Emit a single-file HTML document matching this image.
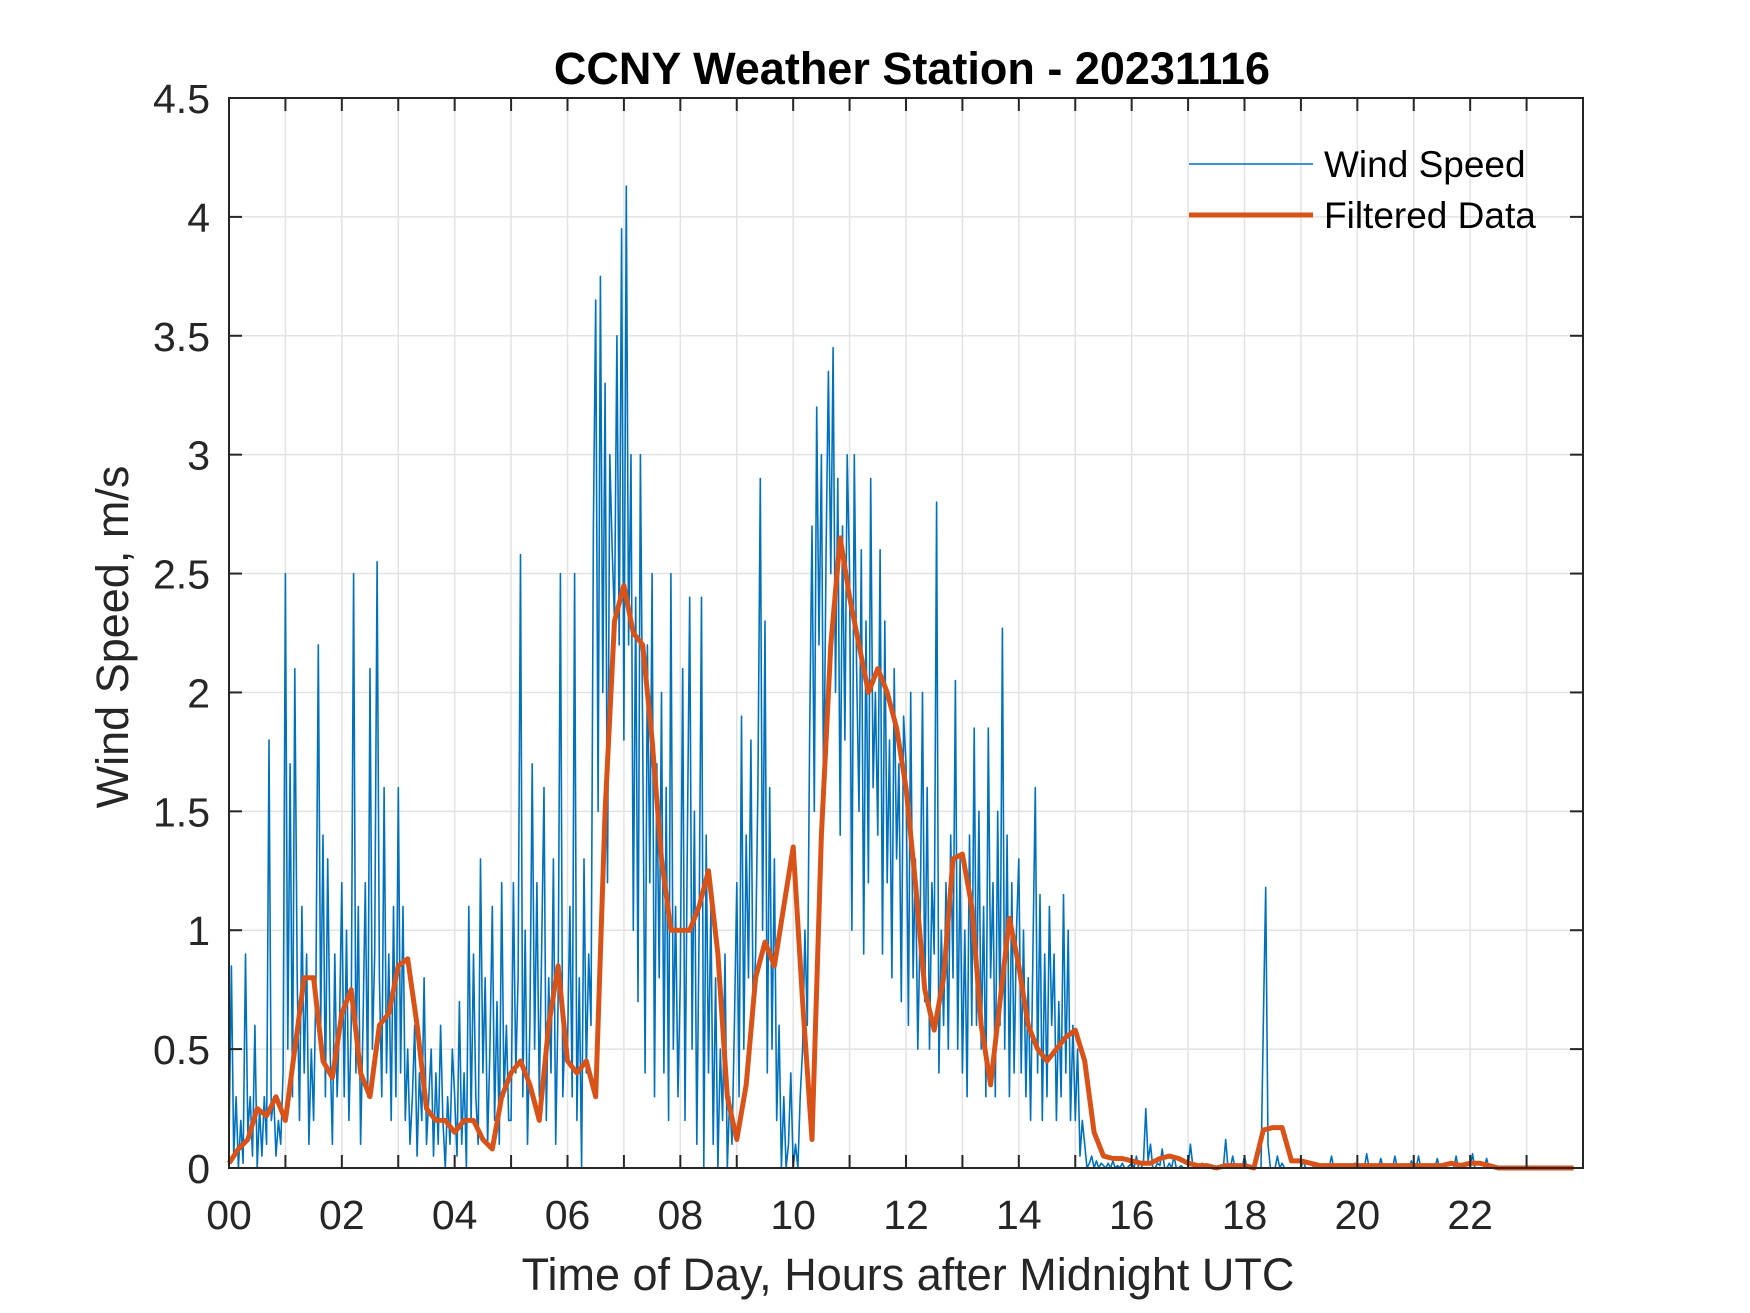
<!DOCTYPE html>
<html><head><meta charset="utf-8">
<style>
html,body{margin:0;padding:0;background:#fff;}
svg{display:block;font-family:"Liberation Sans",Arial,sans-serif;}
</style></head>
<body>
<svg id="chart" width="1750" height="1313" viewBox="0 0 1750 1313">
<rect x="0" y="0" width="1750" height="1313" fill="#fff"/>
<rect x="229" y="98" width="1354" height="1070" fill="#fff"/>
<g id="grid"></g>
<g id="series"></g>
<g id="axes"></g>
<text x="912" y="84" text-anchor="middle" font-size="45" font-weight="bold" fill="#000">CCNY Weather Station - 20231116</text>
<text x="908" y="1290" text-anchor="middle" font-size="45" fill="#262626">Time of Day, Hours after Midnight UTC</text>
<text transform="translate(128,637) rotate(-90)" text-anchor="middle" font-size="45" fill="#262626">Wind Speed, m/s</text>
<g>
<g>
<line x1="1189" y1="164" x2="1313" y2="164" stroke="#0072BD" stroke-width="1.5"/>
<text x="1324" y="177" font-size="37" fill="#000">Wind Speed</text>
</g>
<g>
<line x1="1189" y1="215" x2="1313" y2="215" stroke="#D95319" stroke-width="5"/>
<text x="1324" y="228" font-size="37" fill="#000">Filtered Data</text>
</g>
</g>
</svg>
<script>
// 2.5-minute wind speed samples (m/s), 24 per hour
const windSpeed = [
0.1,0.85,0.05,0.3,0.0,0.2,0.02,0.9,0.15,0.3,0.05,0.6,0.0,0.25,0.05,0.3,0.1,1.8,0.2,0.3,0.05,0.2,0.1,0.4,
2.5,0.5,1.7,0.3,2.1,0.8,0.2,1.1,0.4,0.9,0.1,0.5,0.2,0.8,2.2,0.6,1.4,0.3,1.3,0.5,0.1,0.9,0.3,0.6,
1.2,0.3,1.0,0.2,0.6,2.5,0.4,1.1,0.1,0.6,1.2,0.3,2.1,0.5,0.9,2.55,0.8,0.3,1.6,0.4,0.9,0.2,1.1,0.3,
1.6,0.4,1.1,0.2,0.5,0.1,0.3,0.6,0.05,0.4,0.2,0.8,0.1,0.3,0.5,0.05,0.4,0.1,0.6,0.2,0.0,0.3,0.1,0.5,
0.3,0.05,0.7,0.1,0.4,0.0,1.1,0.2,0.9,0.3,0.1,1.3,0.4,0.8,0.1,0.5,1.1,0.2,0.7,0.1,1.2,0.3,0.6,0.2,
0.2,1.2,0.4,0.8,2.58,0.3,1.0,0.1,0.6,1.7,0.5,1.2,0.3,0.9,1.6,0.2,0.8,0.4,1.3,0.1,0.7,2.5,0.3,0.6,
0.5,1.1,0.3,2.5,0.2,0.8,0.0,1.3,0.4,0.9,0.6,2.7,3.65,1.5,3.75,2.0,3.3,1.2,3.0,2.6,2.3,3.5,2.2,3.95,
1.8,4.13,2.2,3.0,1.0,2.4,0.7,3.0,1.8,0.4,2.2,1.2,2.5,0.3,1.7,0.8,2.0,0.4,1.6,0.2,2.5,0.5,1.1,0.3,
0.8,2.1,0.2,1.4,2.4,0.5,1.5,0.1,1.0,2.4,0.0,1.4,0.4,1.1,0.1,0.8,0.0,0.5,0.2,0.9,0.0,0.3,0.1,0.6,
1.2,0.3,1.9,0.5,1.4,0.8,1.8,0.6,0.9,1.6,2.9,1.0,2.3,0.4,1.6,0.5,1.3,0.2,0.6,0.0,0.3,0.0,0.1,0.4,
0.0,0.1,0.0,0.3,0.5,1.0,0.6,1.8,2.7,1.5,3.2,2.2,3.0,1.5,2.6,3.35,2.5,3.45,2.0,2.9,1.4,2.7,1.8,3.0,
2.5,1.0,3.0,2.1,1.5,2.6,0.9,2.3,1.2,2.9,1.6,2.0,1.4,2.6,0.9,2.3,1.2,1.8,0.8,2.1,1.3,1.7,0.7,1.9,
1.7,0.6,2.0,0.8,1.3,0.5,1.0,2.0,0.7,1.6,0.5,1.2,0.9,2.8,0.4,1.0,0.6,1.2,0.5,1.4,0.8,2.05,0.5,1.3,
0.4,1.0,0.3,1.4,0.6,1.85,0.6,1.5,0.5,1.1,0.3,1.85,0.8,1.2,0.3,1.5,0.6,2.27,0.5,1.4,0.3,1.2,0.4,1.0,
1.3,0.4,1.0,0.3,0.8,0.2,0.9,1.6,0.4,1.15,0.2,0.9,0.3,1.1,0.6,0.9,0.2,0.7,0.3,1.15,0.4,1.0,0.2,0.6,
0.2,0.5,0.05,0.2,0.1,0.0,0.02,0.05,0.0,0.03,0.0,0.02,0.01,0.0,0.02,0.0,0.03,0.0,0.01,0.0,0.02,0.0,0.0,0.01,
0.02,0.0,0.05,0.0,0.0,0.02,0.25,0.03,0.1,0.0,0.0,0.02,0.01,0.08,0.0,0.0,0.02,0.0,0.05,0.0,0.0,0.01,0.0,0.0,
0.0,0.1,0.01,0.0,0.0,0.0,0.02,0.0,0.0,0.0,0.0,0.0,0.0,0.0,0.0,0.0,0.12,0.0,0.0,0.05,0.0,0.0,0.0,0.0,
0.05,0.0,0.0,0.0,0.0,0.0,0.0,0.0,0.6,1.18,0.1,0.0,0.0,0.0,0.05,0.0,0.02,0.0,0.0,0.0,0.0,0.0,0.0,0.0,
0.0,0.03,0.0,0.0,0.0,0.0,0.02,0.0,0.0,0.0,0.0,0.0,0.0,0.05,0.0,0.0,0.0,0.0,0.0,0.0,0.0,0.0,0.0,0.02,
0.0,0.0,0.0,0.0,0.06,0.0,0.0,0.0,0.0,0.0,0.04,0.0,0.0,0.0,0.0,0.0,0.05,0.0,0.0,0.0,0.0,0.0,0.0,0.03,
0.0,0.0,0.05,0.0,0.0,0.0,0.0,0.0,0.0,0.0,0.04,0.0,0.0,0.0,0.0,0.0,0.0,0.0,0.05,0.0,0.0,0.0,0.0,0.0,
0.0,0.06,0.0,0.0,0.0,0.0,0.0,0.04,0.0,0.0,0.0,0.0,0.0,0.0,0.0,0.0,0.0,0.0,0.0,0.0,0.0,0.0,0.0,0.0,
0.0,0.0,0.0,0.0,0.0,0.0,0.0,0.0,0.0,0.0,0.0,0.0,0.0,0.0,0.0,0.0,0.0,0.0,0.0,0.0,0.0,0.0,0.0,0.0
];
// 10-minute filtered values (m/s), 6 per hour
const filtered = [
0.02,0.08,0.12,0.25,0.22,0.3,
0.2,0.5,0.8,0.8,0.45,0.38,
0.65,0.75,0.4,0.3,0.6,0.65,
0.85,0.88,0.6,0.25,0.2,0.2,
0.15,0.2,0.2,0.12,0.08,0.3,
0.4,0.45,0.35,0.2,0.6,0.85,
0.45,0.4,0.45,0.3,1.5,2.3,
2.45,2.25,2.2,1.8,1.3,1.0,
1.0,1.0,1.1,1.25,0.9,0.3,
0.12,0.35,0.8,0.95,0.85,1.1,
1.35,0.7,0.12,1.4,2.2,2.65,
2.4,2.2,2.0,2.1,2.0,1.85,
1.6,1.2,0.75,0.58,0.8,1.3,
1.32,1.1,0.6,0.35,0.7,1.05,
0.85,0.6,0.5,0.45,0.5,0.55,
0.58,0.45,0.15,0.05,0.04,0.04,
0.03,0.02,0.02,0.04,0.05,0.04,
0.02,0.01,0.01,0.0,0.01,0.01,
0.01,0.0,0.16,0.17,0.17,0.03,
0.03,0.02,0.01,0.01,0.01,0.01,
0.01,0.01,0.01,0.01,0.01,0.01,
0.01,0.01,0.01,0.01,0.02,0.01,
0.02,0.02,0.01,0.0,0.0,0.0,
0.0,0.0,0.0,0.0,0.0,0.0
];
const xTickLabels = ["00","02","04","06","08","10","12","14","16","18","20","22"];
const yTickLabels = ["0","0.5","1","1.5","2","2.5","3","3.5","4","4.5"];

const NS = "http://www.w3.org/2000/svg";
const L = 229, R = 1583, T = 98, B = 1168;
const xMax = 24, yMax = 4.5;
function xs(h){ return L + h / xMax * (R - L); }
function ys(v){ return B - v / yMax * (B - T); }
function mk(tag, attrs, parent){
  const e = document.createElementNS(NS, tag);
  for (const k in attrs) e.setAttribute(k, attrs[k]);
  parent.appendChild(e);
  return e;
}
const grid = document.getElementById('grid');
const axes = document.getElementById('axes');
const series = document.getElementById('series');

for (let h = 1; h < 24; h++) {
  const gl = mk('line', {x1: xs(h), x2: xs(h), y1: T, y2: B, stroke: '#e3e3e3', 'stroke-width': 1.5}, grid);
  
  
}
for (let i = 1; i < yTickLabels.length - 1; i++) {
  const v = parseFloat(yTickLabels[i]);
  const gl = mk('line', {x1: L, x2: R, y1: ys(v), y2: ys(v), stroke: '#e3e3e3', 'stroke-width': 1.5}, grid);
  
  
}

const perHourWind = windSpeed.length / 24;
let d = '';
windSpeed.forEach((v, i) => { d += (i ? 'L' : 'M') + xs(i / perHourWind).toFixed(1) + ',' + ys(v).toFixed(1); });
const wl = mk('path', {d: d, fill: 'none', stroke: '#0072BD', 'stroke-width': 1.6, 'stroke-linejoin': 'round'}, series);



const perHourFilt = filtered.length / 24;
let d2 = '';
filtered.forEach((v, i) => { d2 += (i ? 'L' : 'M') + xs(i / perHourFilt).toFixed(1) + ',' + ys(v).toFixed(1); });
const fl = mk('path', {d: d2, fill: 'none', stroke: '#D95319', 'stroke-width': 5, 'stroke-linejoin': 'round'}, series);



const box = mk('rect', {x: L, y: T, width: R - L, height: B - T, fill: 'none', stroke: '#262626', 'stroke-width': 2}, axes);



for (let h = 1; h < 24; h++) {
  const t1 = mk('line', {x1: xs(h), x2: xs(h), y1: B, y2: B - 13, stroke: '#262626', 'stroke-width': 2}, axes);
  
  
  const t2 = mk('line', {x1: xs(h), x2: xs(h), y1: T, y2: T + 13, stroke: '#262626', 'stroke-width': 2}, axes);
  
  
}
xTickLabels.forEach((lab, i) => {
  const t = mk('text', {x: xs(i * 2), y: 1229, 'text-anchor': 'middle', 'font-size': 41, fill: '#262626'}, axes);
  t.textContent = lab;
  
  
});
yTickLabels.forEach((lab) => {
  const v = parseFloat(lab);
  const t1 = mk('line', {x1: L, x2: L + 13, y1: ys(v), y2: ys(v), stroke: '#262626', 'stroke-width': 2}, axes);
  
  
  const t2 = mk('line', {x1: R, x2: R - 13, y1: ys(v), y2: ys(v), stroke: '#262626', 'stroke-width': 2}, axes);
  
  
  const t = mk('text', {x: 210, y: ys(v) + 15, 'text-anchor': 'end', 'font-size': 41, fill: '#262626'}, axes);
  t.textContent = lab;
  
  
});
</script>
</body></html>
